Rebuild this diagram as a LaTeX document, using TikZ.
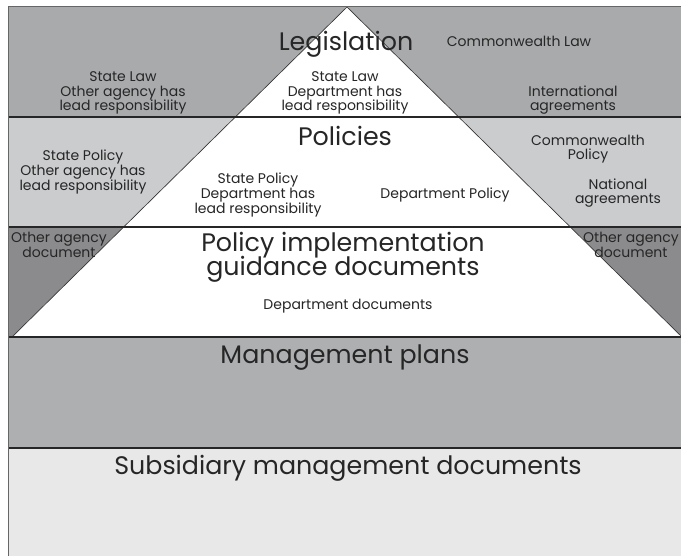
\documentclass[tikz,border=0pt]{standalone}
\usepackage{fontspec}
\setmainfont{Poppins}

\definecolor{lawgray}{HTML}{A9AAAC}
\definecolor{policygray}{HTML}{CBCCCE}
\definecolor{agencygray}{HTML}{8B8B8D}
\definecolor{plangray}{HTML}{AEAFB1}
\definecolor{subgray}{HTML}{E8E8E9}

\newcommand{\smallfont}{\fontsize{10.5}{11}\selectfont\lineskiplimit=-10pt\relax}
\newcommand{\titlefont}{\fontsize{19}{18}\selectfont\lineskiplimit=-20pt\relax}

\begin{document}
\begin{tikzpicture}[x=0.75pt,y=-0.75pt,
  small/.style={align=center,text=black!85,font=\smallfont},
  title/.style={align=center,text=black!85,font=\titlefont}]

\useasboundingbox (0,0) rectangle (681,556);
\begin{scope}
\clip (0,0) rectangle (681,556);

% bands, top to bottom
\fill[lawgray] (8,6) rectangle (700,117);
\fill[policygray] (8,117) rectangle (700,227);
\fill[agencygray] (8,227) rectangle (700,337);
\fill[plangray] (8,337) rectangle (700,448);
\fill[subgray] (8,448) rectangle (700,570);

% the pyramid
\fill[white] (347,7) -- (12,337) -- (682,337) -- cycle;
\draw[black!80, line width=0.5pt] (12,337) -- (347,7) -- (682,337);

\foreach \y in {117,227,337,448}{
\draw[black!85, line width=0.9pt] (8,\y) -- (700,\y);
}

% frame
\draw[black!60, line width=0.6pt] (8,570) -- (8,6) -- (700,6);
\end{scope}

\node[title] (legis) at (346,44) {Legislation};
\node[small] (lawother) at (123,93) {State Law\\Other agency has\\lead responsibility};
\node[small] (lawdept) at (345,93) {State Law\\Department has\\lead responsibility};
\node[small] (cwlaw) at (519,41) {Commonwealth Law};
\node[small] (intl) at (573,100) {International\\agreements};

\node[title] (policies) at (345,136) {Policies};
\node[small] (polother) at (83,172) {State Policy\\Other agency has\\lead responsibility};
\node[small] (poldept) at (258,195) {State Policy\\Department has\\lead responsibility};
\node[small] (deptpol) at (445,195) {Department Policy};
\node[small] (cwpol) at (588,149) {Commonwealth\\Policy};
\node[small] (natl) at (618,193) {National\\agreements};

\node[small] (docleft) at (59,245) {Other agency\\document};
\node[small] (docright) at (631,245) {Other agency\\document};
\node[title] (guidance) at (343,257) {Policy implementation\\guidance documents};
\node[small] (deptdocs) at (348,306) {Department documents};

\node[title] (plans) at (345,358) {Management plans};
\node[title] (subsid) at (348,468) {Subsidiary management documents};
\end{tikzpicture}
\end{document}
